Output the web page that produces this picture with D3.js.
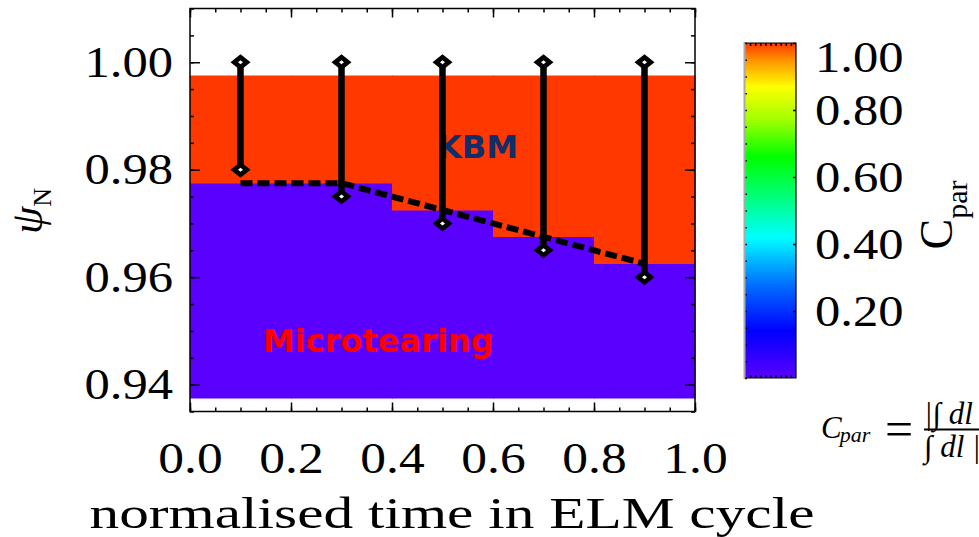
<!DOCTYPE html>
<html>
<head>
<meta charset="utf-8">
<script src="https://cdn.jsdelivr.net/npm/d3@7"></script>
<style>
body { margin: 0; background: #fff; }
svg { display: block; }
</style>
</head>
<body>
<div id="chart"></div>
<script>
// values
var times = [0.1, 0.3, 0.5, 0.7, 0.9];
var psiCells = [0.940, 0.945, 0.950, 0.955, 0.960, 0.965, 0.970, 0.975, 0.980, 0.985, 0.990, 0.995];
// C_par in each cell, one array per time column (rows follow psiCells)
var cpar01 = [0, 0, 0, 0, 0, 0, 0, 0, 1, 1, 1, 1];
var cpar03 = [0, 0, 0, 0, 0, 0, 0, 0, 1, 1, 1, 1];
var cpar05 = [0, 0, 0, 0, 0, 0, 0, 1, 1, 1, 1, 1];
var cpar07 = [0, 0, 0, 0, 0, 0, 1, 1, 1, 1, 1, 1];
var cpar09 = [0, 0, 0, 0, 0, 1, 1, 1, 1, 1, 1, 1];
var barTop = [1.000, 1.000, 1.000, 1.000, 1.000];
var barBottom = [0.980, 0.975, 0.970, 0.965, 0.960];
var boundary = [0.9775, 0.9775, 0.9725, 0.9675, 0.9625];
var xTicks = [0.0, 0.2, 0.4, 0.6, 0.8, 1.0];
var yTicks = [0.94, 0.96, 0.98, 1.00];
var cbTicks = [0.2, 0.4, 0.6, 0.8, 1.0];

// colour table (rainbow, purple -> red)
var cmapPos = [0.00, 0.14, 0.28, 0.42, 0.55, 0.66, 0.77, 0.87, 0.95, 1.00];
var cmapCol = ["#5a00ff", "#0000ff", "#0070ff", "#00ffff", "#00ff70", "#00ff00",
               "#a0ff00", "#ffff00", "#ff9000", "#ff3800"];

var W = 979, H = 537;
var serif = "'Liberation Serif', 'Times New Roman', serif";

var svg = d3.select("#chart").append("svg").attr("width", W).attr("height", H);

var x = d3.scaleLinear().domain([0, 1]).range([190, 695]);
var y = d3.scaleLinear().domain([0.935, 1.01]).range([411.5, 8.5]);
var color = d3.scaleLinear().domain(cmapPos).range(cmapCol).clamp(true);

// widen glyphs a little, the original font is broader than Times
function stretch(sel, k) {
  sel.each(function() {
    var w = this.getComputedTextLength();
    d3.select(this).attr("textLength", w * k).attr("lengthAdjust", "spacingAndGlyphs");
  });
}

// cells
var cols = [cpar01, cpar03, cpar05, cpar07, cpar09];
var cells = [];
times.forEach(function(t, i) {
  psiCells.forEach(function(p, j) {
    cells.push({t: t, psi: p, c: cols[i][j]});
  });
});

svg.append("g").selectAll("rect")
  .data(cells)
  .enter().append("rect")
  .attr("x", d => x(d.t - 0.1))
  .attr("width", d => x(d.t + 0.1) - x(d.t - 0.1))
  .attr("y", d => y(d.psi + 0.0025))
  .attr("height", d => y(d.psi - 0.0025) - y(d.psi + 0.0025))
  .attr("fill", d => color(d.c))
  .attr("stroke", d => color(d.c))
  .attr("stroke-width", 0.5)
  .attr("shape-rendering", "crispEdges");

// region labels
svg.append("text").attr("x", 437).attr("y", 158)
  .attr("font-family", "'DejaVu Sans', sans-serif").attr("font-weight", "bold")
  .attr("font-size", 32).attr("fill", "#112e6b").text("KBM");
svg.append("text").attr("x", 263).attr("y", 352)
  .attr("font-family", "'DejaVu Sans', sans-serif").attr("font-weight", "bold")
  .attr("font-size", 32).attr("fill", "#ff0000").text("Microtearing");

// boundary (dashed)
svg.append("path")
  .datum(times.map((t, i) => [t, boundary[i]]))
  .attr("d", d3.line().x(d => x(d[0])).y(d => y(d[1])))
  .attr("fill", "none").attr("stroke", "#000")
  .attr("stroke-width", 6).attr("stroke-dasharray", "12,5");

// range bars
svg.append("g").selectAll("line")
  .data(times)
  .enter().append("line")
  .attr("x1", d => x(d)).attr("x2", d => x(d))
  .attr("y1", (d, i) => y(barTop[i])).attr("y2", (d, i) => y(barBottom[i]))
  .attr("stroke", "#000").attr("stroke-width", 6.5);

var ends = [];
times.forEach(function(t, i) {
  ends.push([t, barTop[i]]);
  ends.push([t, barBottom[i]]);
});
var diam = svg.append("g").selectAll("g")
  .data(ends)
  .enter().append("g")
  .attr("transform", d => "translate(" + x(d[0]) + "," + y(d[1]) + ")");
diam.append("path").attr("d", "M-10,0L0,-8L10,0L0,8Z").attr("fill", "#000");
diam.append("path").attr("d", "M-2.5,0L0,-2L2.5,0L0,2Z").attr("fill", "#fff");

// axes (ticks point inward)
function styleAxis(g) {
  g.select(".domain").remove();
  g.selectAll(".tick line").attr("stroke", "#000").attr("stroke-width", 1.5);
  g.selectAll("text").attr("font-family", serif).attr("font-size", 44).attr("fill", "#000");
}

svg.append("g").attr("transform", "translate(0,411.5)")
  .call(d3.axisBottom(x).tickValues(x.ticks(20)).tickSize(-4).tickFormat(""))
  .call(styleAxis);
var gb = svg.append("g").attr("transform", "translate(0,411.5)")
  .call(d3.axisBottom(x).tickValues(xTicks).tickSize(-9).tickPadding(30).tickFormat(d3.format(".1f")))
  .call(styleAxis);
stretch(gb.selectAll("text"), 1.17);

svg.append("g").attr("transform", "translate(0,8.5)")
  .call(d3.axisTop(x).tickValues(x.ticks(20)).tickSize(-4).tickFormat(""))
  .call(styleAxis);
svg.append("g").attr("transform", "translate(0,8.5)")
  .call(d3.axisTop(x).tickValues(xTicks).tickSize(-9).tickFormat(""))
  .call(styleAxis);

svg.append("g").attr("transform", "translate(190,0)")
  .call(d3.axisLeft(y).tickValues(y.ticks(15)).tickSize(-4).tickFormat(""))
  .call(styleAxis);
var gl = svg.append("g").attr("transform", "translate(190,0)")
  .call(d3.axisLeft(y).tickValues(yTicks).tickSize(-10).tickPadding(17).tickFormat(d3.format(".2f")))
  .call(styleAxis);
stretch(gl.selectAll("text"), 1.15);

svg.append("g").attr("transform", "translate(695,0)")
  .call(d3.axisRight(y).tickValues(y.ticks(15)).tickSize(-4).tickFormat(""))
  .call(styleAxis);
svg.append("g").attr("transform", "translate(695,0)")
  .call(d3.axisRight(y).tickValues(yTicks).tickSize(-10).tickFormat(""))
  .call(styleAxis);

// frame
svg.append("rect").attr("x", 190).attr("y", 8.5).attr("width", 505).attr("height", 403)
  .attr("fill", "none").attr("stroke", "#000").attr("stroke-width", 1.5);

// axis titles
var xt = svg.append("text").attr("x", 452).attr("y", 528)
  .attr("text-anchor", "middle").attr("font-family", serif).attr("font-size", 45)
  .text("normalised time in ELM cycle");
xt.attr("textLength", 725).attr("lengthAdjust", "spacingAndGlyphs");

var yt = svg.append("text").attr("transform", "translate(42,211) rotate(-90)")
  .attr("text-anchor", "middle").attr("font-family", serif);
yt.append("tspan").attr("font-size", 44).attr("font-style", "italic").text("ψ");
yt.append("tspan").attr("font-size", 26).attr("dy", 9).text("N");

// colour bar
var cy = d3.scaleLinear().domain([0, 1]).range([378, 43]);
var grad = svg.append("defs").append("linearGradient").attr("id", "cbar")
  .attr("x1", 0).attr("y1", 1).attr("x2", 0).attr("y2", 0);
grad.selectAll("stop").data(cmapPos).enter().append("stop")
  .attr("offset", d => d).attr("stop-color", (d, i) => cmapCol[i]);

svg.append("rect").attr("x", 745).attr("y", 43).attr("width", 51).attr("height", 335)
  .attr("fill", "url(#cbar)");

var cbx = d3.scaleLinear().domain([0, 1]).range([745, 796]);
svg.append("g").attr("transform", "translate(0,43)")
  .call(d3.axisTop(cbx).tickValues(cbx.ticks(10).slice(1, -1)).tickSize(-3).tickFormat(""))
  .call(styleAxis);
svg.append("g").attr("transform", "translate(0,378)")
  .call(d3.axisBottom(cbx).tickValues(cbx.ticks(10).slice(1, -1)).tickSize(-3).tickFormat(""))
  .call(styleAxis);
svg.append("g").attr("transform", "translate(745,0)")
  .call(d3.axisLeft(cy).tickValues(cy.ticks(20)).tickSize(-2).tickFormat(""))
  .call(styleAxis);
svg.append("g").attr("transform", "translate(796,0)")
  .call(d3.axisRight(cy).tickValues(cbTicks).tickSize(-3).tickFormat(""))
  .call(styleAxis);

svg.append("line").attr("x1", 744.5).attr("x2", 744.5).attr("y1", 42).attr("y2", 379)
  .attr("stroke", "#aaa").attr("stroke-width", 2);
svg.append("path").attr("d", "M745,43H796V378H745")
  .attr("fill", "none").attr("stroke", "#000").attr("stroke-width", 1.2);

var cbl = svg.append("g").selectAll("text")
  .data(cbTicks)
  .enter().append("text")
  .attr("x", 815)
  .attr("y", d => Math.max(cy(d), 57))
  .attr("dy", "0.34em")
  .attr("font-family", serif).attr("font-size", 44)
  .text(d => d3.format(".2f")(d));
stretch(cbl, 1.15);

var ct = svg.append("text").attr("transform", "translate(952,215) rotate(-90)")
  .attr("text-anchor", "middle").attr("font-family", serif);
ct.append("tspan").attr("font-size", 46).text("C");
ct.append("tspan").attr("font-size", 30).attr("dy", 15).text("par");

// definition of C_par (the original is cut by the right edge)
var f = svg.append("g").attr("font-family", serif).attr("font-style", "italic");
var fl = f.append("text").attr("x", 821).attr("y", 438).attr("font-size", 31);
fl.append("tspan").text("C");
fl.append("tspan").attr("font-size", 22).attr("dy", 4).attr("dx", -2).text("par");
f.append("text").attr("x", 899).attr("y", 446).attr("text-anchor", "middle")
  .attr("font-style", "normal").attr("font-size", 50).text("=");
f.append("text").attr("x", 924).attr("y", 424).attr("font-size", 31).text("|∫ dl E∥|");
f.append("line").attr("x1", 924).attr("x2", 985).attr("y1", 429.5).attr("y2", 429.5)
  .attr("stroke", "#000").attr("stroke-width", 1.8);
f.append("text").attr("x", 924).attr("y", 457).attr("font-size", 31).text("∫ dl |E∥|");
</script>
</body>
</html>
